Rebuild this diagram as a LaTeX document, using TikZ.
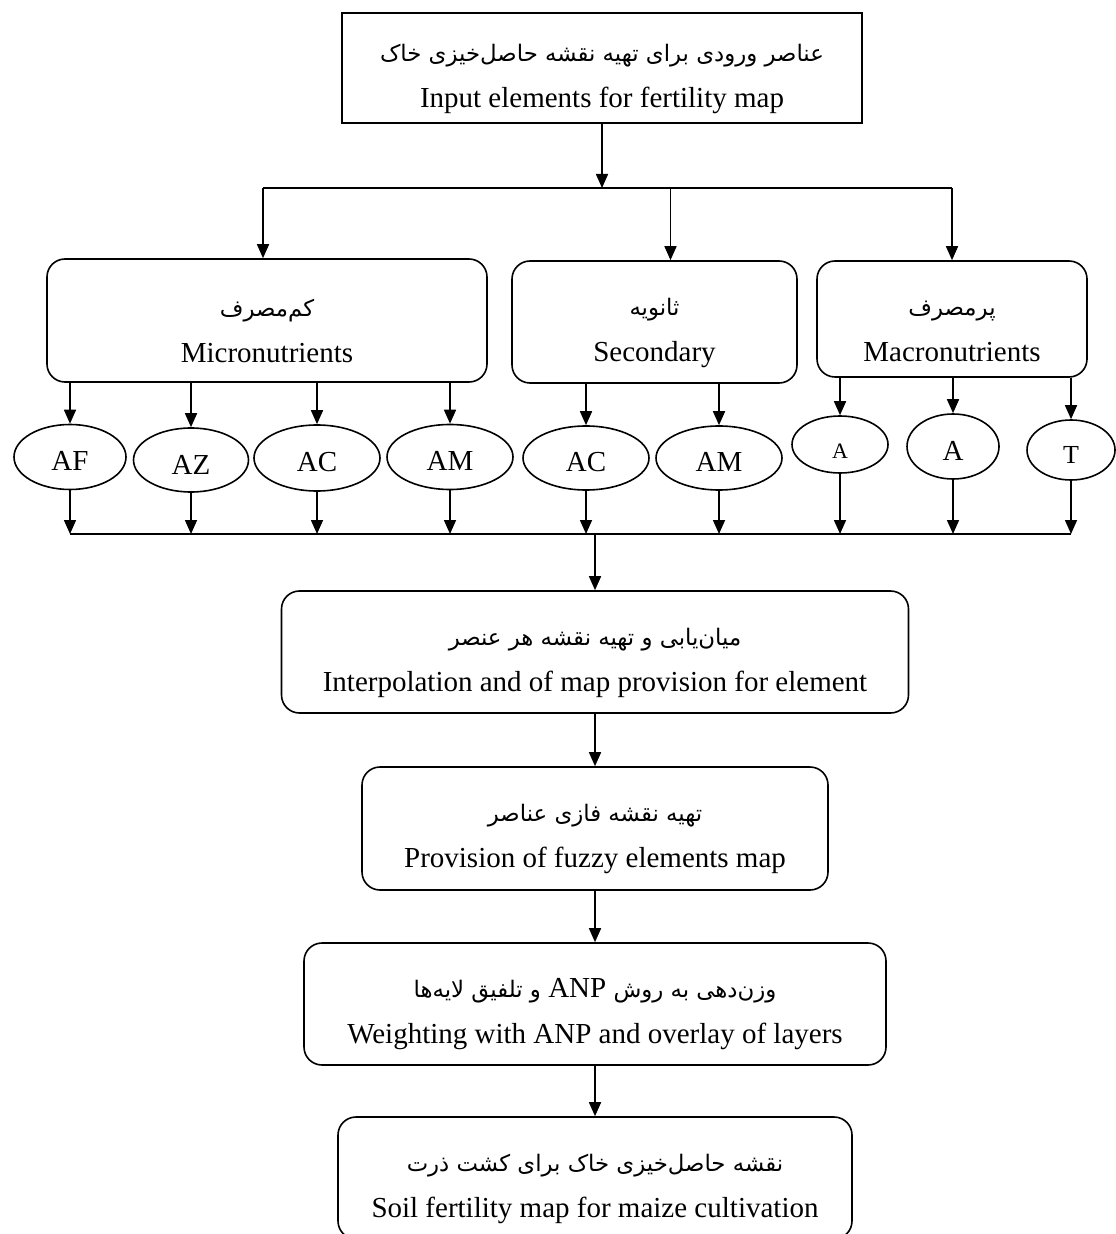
\documentclass[tikz,border=0pt]{standalone}
\usepackage{fontspec}
\setmainfont{Liberation Serif}
\newfontfamily\farsi[Script=Arabic]{DejaVu Sans}
\TeXXeTstate=1
\usetikzlibrary{shapes.geometric, arrows.meta}
\newcommand{\fatxt}[1]{{\farsi\fontsize{11.4}{14}\selectfont\rule{0pt}{19.5pt}\beginR #1\endR}}

\begin{document}
\begin{tikzpicture}[x=0.5pt, y=-0.5pt,
    box/.style={draw, line width=0.8pt, rounded corners=9pt, align=center, inner sep=0pt,
                font=\fontsize{14.5}{23}\selectfont},
    elem/.style={draw, ellipse, line width=0.8pt, inner sep=0pt, text height=14pt, text depth=0pt,
                font=\fontsize{14.5}{17}\selectfont},
    arr/.style={line width=0.8pt, -{Triangle[length=7pt,width=6pt]}},
    bus/.style={line width=0.8pt}]
    \useasboundingbox (0,0) rectangle (1115,1234);

    \node[box, sharp corners, minimum width=260pt, minimum height=55pt] (input) at (602,68)
        {\fatxt{عناصر ورودی برای تهیه نقشه حاصل^^^^200cخیزی خاک}\\Input elements for fertility map};
    \coordinate (split) at (602,188);

    \node[box, minimum width=220pt, minimum height=61.5pt] (micro) at (267,320.5)
        {\fatxt{کم^^^^200cمصرف}\\Micronutrients};
    \node[box, minimum width=142.5pt, minimum height=61pt] (second) at (654.5,322)
        {\fatxt{ثانویه}\\Secondary};
    \node[box, minimum width=135pt, minimum height=58pt] (macro) at (952,319)
        {\fatxt{پرمصرف}\\Macronutrients};

    % elements
    \foreach \n/\x/\y/\w/\h/\t in {AF/70/457/56/32.5/AF, AZ/191/460/57.5/32/AZ, ACm/317/458/63/33/AC,
        AMm/450/457/63/32.5/AM, ACs/586/458/63/32/AC, AMs/719/458/63/32/AM,
        Ma/840/444.5/48/28.5/{\fontsize{11}{13}\selectfont A}, Mb/953/446.5/46/32.5/A,
        Mt/1071/450/44/30/{\fontsize{13}{15}\selectfont T}}
        \node[elem, minimum width=\w pt, minimum height=\h pt] (\n) at (\x,\y) {\t};
    \coordinate (join) at (595,534);

    \node[box, minimum width=313.5pt, minimum height=61pt] (interp) at (595,652)
        {\fatxt{میان^^^^200cیابی و تهیه نقشه هر عنصر}\\Interpolation and of map provision for element};
    \node[box, minimum width=233pt, minimum height=61.5pt] (fuzzy) at (595,828.5)
        {\fatxt{تهیه نقشه فازی عناصر}\\Provision of fuzzy elements map};
    \node[box, minimum width=291pt, minimum height=61pt] (weight) at (595,1004)
        {\fatxt{وزن^^^^200cدهی به روش {\rmfamily\fontsize{14.5}{17}\selectfont\beginL ANP\endL} و تلفیق لایه^^^^200cها}\\Weighting with ANP and overlay of layers};
    \node[box, minimum width=257pt, minimum height=61pt] (final) at (595,1178)
        {\fatxt{نقشه حاصل^^^^200cخیزی خاک برای کشت ذرت}\\Soil fertility map for maize cultivation};

    \draw[arr] (input) -- (split);
    \draw[bus] ([xshift=-2pt]split -| micro.north) -- (split -| macro.north);
    \draw[arr] ([xshift=-2pt]split -| micro.north) -- ([xshift=-2pt]micro.north);
    \draw[arr] ([xshift=8pt]split -| second.north) -- ([xshift=8pt]second.north);
    \draw[arr] (split -| macro.north) -- (macro.north);

    \foreach \e in {AF, AZ, ACm, AMm}
        \draw[arr] (micro.south -| \e.north) -- (\e.north);
    \foreach \e in {ACs, AMs}
        \draw[arr] (second.south -| \e.north) -- (\e.north);
    \foreach \e in {Ma, Mb, Mt}
        \draw[arr] (macro.south -| \e.north) -- (\e.north);

    \foreach \e in {AF, AZ, ACm, AMm, ACs, AMs, Ma, Mb, Mt}
        \draw[arr] (\e.south) -- (\e.south |- join);
    \draw[bus] (join -| AF.south) -- (join -| Mt.south);

    \draw[arr] (join) -- (interp.north);
    \draw[arr] (interp) -- (fuzzy);
    \draw[arr] (fuzzy) -- (weight);
    \draw[arr] (weight) -- (final);
\end{tikzpicture}
\end{document}
